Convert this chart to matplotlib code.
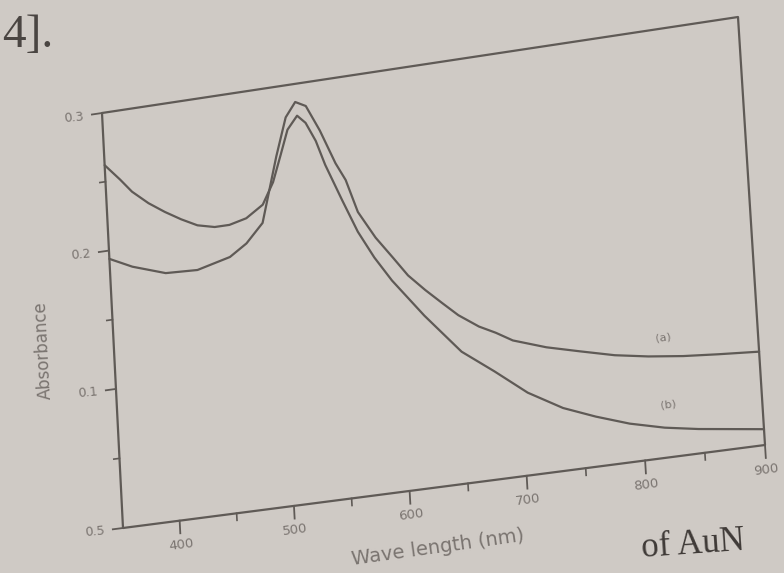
import numpy as np
import matplotlib
matplotlib.use("Agg")
import matplotlib.pyplot as plt
import matplotlib.transforms as mtransforms

# --- data ---
wl_a = [350, 370, 399, 427, 456, 471, 486, 501, 511, 520, 529, 540, 552, 560, 569,
        583, 597, 609, 623, 637, 650, 667, 681, 695, 723, 751, 780, 808, 837, 866, 900]
abs_a = [0.194, 0.186, 0.178, 0.177, 0.183, 0.191, 0.204, 0.250, 0.277, 0.287, 0.283,
         0.264, 0.239, 0.226, 0.202, 0.182, 0.166, 0.152, 0.140, 0.129, 0.119, 0.109,
         0.103, 0.096, 0.088, 0.082, 0.076, 0.072, 0.069, 0.067, 0.065]

wl_b = [350, 363, 373, 387, 401, 415, 429, 444, 457, 472, 487, 497, 505, 512, 521, 528,
        536, 543, 556, 568, 581, 595, 621, 651, 678, 705, 734, 761, 789, 818, 846, 900]
abs_b = [0.262, 0.250, 0.240, 0.230, 0.222, 0.215, 0.209, 0.206, 0.206, 0.209, 0.217,
         0.232, 0.251, 0.268, 0.277, 0.271, 0.257, 0.239, 0.212, 0.188, 0.168, 0.150,
         0.122, 0.093, 0.076, 0.058, 0.044, 0.035, 0.027, 0.021, 0.017, 0.011]

x_ticks = [400, 500, 600, 700, 800, 900]
x_minor = [450, 550, 650, 750, 850]
y_ticks = [0.0, 0.1, 0.2, 0.3]
y_tick_labels = ["0.5", "0.1", "0.2", "0.3"]
y_minor = [0.05, 0.15, 0.25]

X0, X1 = 350, 900
Y0, Y1 = 0.0, 0.3

# corners of the (tilted) plot frame in image pixels: BL, BR, TR, TL
CORNERS = [(123, 528), (765, 445), (738, 17), (102, 113)]

BG = "#cfcac5"
INK = "#5f5a56"
TXT = "#7a7470"


def homography(corners):
    """Projective map from the unit square onto the photographed frame."""
    src = [(0, 0), (1, 0), (1, 1), (0, 1)]
    A, b = [], []
    for (s, t), (u, v) in zip(src, corners):
        A.append([s, t, 1, 0, 0, 0, -u * s, -u * t]); b.append(u)
        A.append([0, 0, 0, s, t, 1, -v * s, -v * t]); b.append(v)
    h = np.linalg.solve(np.array(A, float), np.array(b, float))
    return np.append(h, 1.0).reshape(3, 3)


class PageTransform(mtransforms.Transform):
    """(wavelength, absorbance) -> image pixel position on the tilted page."""
    input_dims = 2
    output_dims = 2

    def __init__(self, H):
        super().__init__()
        self.H = H

    def transform_non_affine(self, values):
        v = np.atleast_2d(np.asarray(values, float))
        s = (v[:, 0] - X0) / (X1 - X0)
        t = (v[:, 1] - Y0) / (Y1 - Y0)
        p = np.stack([s, t, np.ones_like(s)], axis=1) @ self.H.T
        return p[:, :2] / p[:, 2:3]


fig = plt.figure(figsize=(7.84, 5.73), dpi=100, facecolor=BG)
ax = fig.add_axes([0, 0, 1, 1])
ax.set_xlim(0, 784)
ax.set_ylim(573, 0)
ax.axis("off")
ax.set_facecolor(BG)

tr = PageTransform(homography(CORNERS)) + ax.transData
line_kw = dict(color=INK, lw=1.6, solid_capstyle="round", transform=tr)

# frame
ax.plot([X0, X1, X1, X0, X0], [Y0, Y0, Y1, Y1, Y0], **line_kw)

# ticks
for x in x_ticks:
    ax.plot([x, x], [0, -0.009], color=INK, lw=1.3, transform=tr)
    ax.text(x, -0.017, str(x), transform=tr, ha="center", va="center",
            rotation=7.5, fontsize=9.5, color=TXT)
for x in x_minor:
    ax.plot([x, x], [0, -0.005], color=INK, lw=1.2, transform=tr)
for y, lab in zip(y_ticks, y_tick_labels):
    ax.plot([X0, X0 - 9], [y, y], color=INK, lw=1.3, transform=tr)
    ax.text(X0 - 25, y, lab, transform=tr, ha="center", va="center",
            rotation=5, fontsize=9, color=TXT)
for y in y_minor:
    ax.plot([X0, X0 - 5], [y, y], color=INK, lw=1.2, transform=tr)

# spectra
ax.plot(wl_a, abs_a, **line_kw)
ax.plot(wl_b, abs_b, **line_kw)
ax.text(821, 0.084, "(a)", transform=tr, ha="center", va="center",
        rotation=7, fontsize=8, color=TXT)
ax.text(822, 0.037, "(b)", transform=tr, ha="center", va="center",
        rotation=7, fontsize=8, color=TXT)

# axis titles
ax.text(621, -0.042, "Wave length (nm)", transform=tr, ha="center", va="center",
        rotation=8, fontsize=14, color=TXT)
ax.text(287, 0.135, "Absorbance", transform=tr, ha="center", va="center",
        rotation=93, fontsize=12, color=TXT)

# surrounding page text
fig.text(0.003, 1 - 47 / 573, "4].", fontsize=34, family="Liberation Serif",
         color="#4a4542", va="baseline")
fig.text(640 / 784, 16 / 573, "of AuN", fontsize=25, family="Liberation Serif",
         color="#3f3a37", va="baseline", rotation=4)

fig.savefig("out.png", dpi=100, facecolor=BG)
